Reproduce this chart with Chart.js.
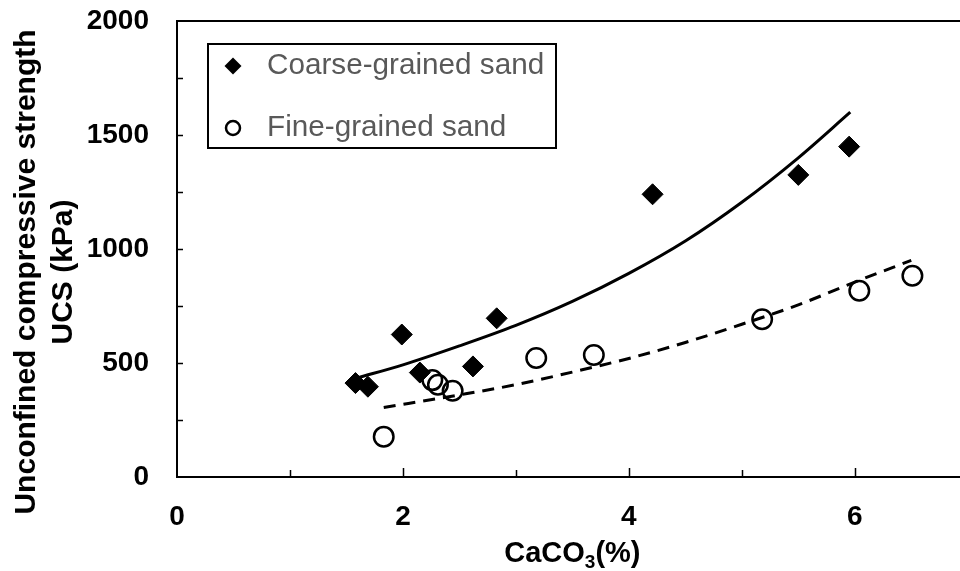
<!DOCTYPE html>
<html>
<head>
<meta charset="utf-8">
<script src="https://cdn.jsdelivr.net/npm/chart.js@4.4.1/dist/chart.umd.min.js"></script>
<style>
  html, body { margin: 0; padding: 0; background: #fff; overflow: hidden; }
  #wrap { width: 960px; height: 571px; overflow: hidden; }
  #grafico { display: block; }
</style>
</head>
<body>
<div id="wrap"><canvas id="grafico" width="980" height="571"></canvas></div>
<script>
const serieNomes = ['Coarse-grained sand', 'Fine-grained sand'];

// measured points
const coarseX = [1.58, 1.69, 1.99, 2.15, 2.62, 2.83, 4.21, 5.50, 5.95];
const coarseY = [412, 396, 625, 458, 485, 696, 1240, 1325, 1449];
const fineX = [1.83, 2.26, 2.31, 2.44, 3.18, 3.69, 5.18, 6.04, 6.51];
const fineY = [177, 425, 405, 378, 522, 535, 692, 817, 883];

// fitted trend curves
const coarseFitX = [1.60, 2.0, 2.5, 3.0, 3.5, 4.0, 4.5, 5.0, 5.5, 5.96];
const coarseFitY = [435, 492, 575, 665, 770, 893, 1035, 1205, 1400, 1600];
const fineFitX = [1.83, 2.5, 3.0, 3.5, 4.0, 4.5, 5.0, 5.5, 6.0, 6.5];
const fineFitY = [305, 360, 405, 460, 520, 590, 670, 755, 855, 950];

// axes
const xTickLabels = [0, 2, 4, 6];
const xTickMarks = [1, 2, 3, 4, 5, 6, 7];
const yTickLabels = [0, 500, 1000, 1500, 2000];
const yTickMarks = [250, 500, 750, 1000, 1250, 1500, 1750];

const fonte = "'Liberation Sans', Arial, Helvetica, sans-serif";

function pares(xs, ys) {
    let lista = [];
    for (let i = 0; i < xs.length; i++) {
        lista.push({ x: xs[i], y: ys[i] });
    }
    return lista;
}

function losango(ctx, cx, cy, r) {
    ctx.beginPath();
    ctx.moveTo(cx - r, cy);
    ctx.lineTo(cx, cy - r);
    ctx.lineTo(cx + r, cy);
    ctx.lineTo(cx, cy + r);
    ctx.closePath();
    ctx.fill();
}

// frame, inward tick marks, legend box and axis titles
const molduraPlugin = {
    id: 'moldura',
    afterDraw(chart) {
        const ctx = chart.ctx;
        const area = chart.chartArea;
        const sx = chart.scales.x;
        const sy = chart.scales.y;

        ctx.save();
        ctx.strokeStyle = '#000';
        ctx.lineWidth = 2;
        ctx.strokeRect(area.left, area.top, area.right - area.left, area.bottom - area.top);

        ctx.lineWidth = 1.5;
        ctx.beginPath();
        yTickMarks.forEach(v => {
            const py = Math.round(sy.getPixelForValue(v)) + 0.5;
            ctx.moveTo(area.left, py);
            ctx.lineTo(area.left + 6, py);
        });
        xTickMarks.forEach(v => {
            const px = Math.round(sx.getPixelForValue(v)) + 0.5;
            const len = v % 2 === 0 ? 9 : 7;
            ctx.moveTo(px, area.bottom);
            ctx.lineTo(px, area.bottom - len);
        });
        ctx.stroke();

        // legend
        const lx = area.left + 31;
        const ly = area.top + 23;
        ctx.fillStyle = '#fff';
        ctx.fillRect(lx, ly, 348, 104);
        ctx.lineWidth = 2;
        ctx.strokeRect(lx, ly, 348, 104);

        ctx.fillStyle = '#000';
        losango(ctx, lx + 25, ly + 22, 8.5);
        ctx.lineWidth = 2.5;
        ctx.beginPath();
        ctx.arc(lx + 25, ly + 84, 7, 0, Math.PI * 2);
        ctx.stroke();

        ctx.font = '29.7px ' + fonte;
        ctx.fillStyle = '#595959';
        ctx.textAlign = 'left';
        ctx.textBaseline = 'alphabetic';
        ctx.fillText(serieNomes[0], lx + 59, ly + 30);
        ctx.fillText(serieNomes[1], lx + 59, ly + 92);

        // y title, two lines
        ctx.fillStyle = '#000';
        ctx.font = 'bold 30px ' + fonte;
        ctx.textAlign = 'center';
        ctx.save();
        ctx.translate(35, 272);
        ctx.rotate(-Math.PI / 2);
        ctx.fillText('Unconfined compressive strength', 0, 0);
        ctx.restore();
        ctx.save();
        ctx.translate(72, 272);
        ctx.rotate(-Math.PI / 2);
        ctx.fillText('UCS (kPa)', 0, 0);
        ctx.restore();

        // x title with subscript
        const grande = 'bold 29px ' + fonte;
        const pequeno = 'bold 19px ' + fonte;
        ctx.font = grande;
        const w1 = ctx.measureText('CaCO').width;
        const w3 = ctx.measureText('(%)').width;
        ctx.font = pequeno;
        const w2 = ctx.measureText('3').width;
        const centro = (area.left + area.right) / 2;
        let px = centro - (w1 + w2 + w3) / 2;
        const base = 562;
        ctx.textAlign = 'left';
        ctx.font = grande;
        ctx.fillText('CaCO', px, base);
        px += w1;
        ctx.font = pequeno;
        ctx.fillText('3', px, base + 6);
        px += w2;
        ctx.font = grande;
        ctx.fillText('(%)', px, base);
        ctx.restore();
    }
};

const config = {
    type: 'scatter',
    data: {
        datasets: [
            {
                label: serieNomes[0],
                data: pares(coarseX, coarseY),
                pointStyle: 'rectRot',
                pointRadius: 10.5,
                pointHoverRadius: 10.5,
                backgroundColor: '#000',
                borderColor: '#000',
                borderWidth: 1,
                order: 0
            },
            {
                label: serieNomes[1],
                data: pares(fineX, fineY),
                pointStyle: 'circle',
                pointRadius: 9.75,
                pointHoverRadius: 9.75,
                backgroundColor: 'rgba(0,0,0,0)',
                borderColor: '#000',
                borderWidth: 2.5,
                order: 0
            },
            {
                type: 'line',
                label: 'coarse fit',
                data: pares(coarseFitX, coarseFitY),
                borderColor: '#000',
                borderWidth: 3,
                pointRadius: 0,
                cubicInterpolationMode: 'monotone',
                fill: false,
                order: 1
            },
            {
                type: 'line',
                label: 'fine fit',
                data: pares(fineFitX, fineFitY),
                borderColor: '#000',
                borderWidth: 3,
                borderDash: [12, 8],
                pointRadius: 0,
                cubicInterpolationMode: 'monotone',
                fill: false,
                order: 1
            }
        ]
    },
    options: {
        responsive: false,
        animation: false,
        devicePixelRatio: 1,
        layout: { padding: { top: 21, right: 11, left: 0, bottom: 0 } },
        plugins: {
            legend: { display: false },
            tooltip: { enabled: false }
        },
        scales: {
            x: {
                type: 'linear',
                min: 0,
                max: 7,
                grid: { display: false, drawTicks: false },
                border: { display: false },
                afterBuildTicks: s => { s.ticks = xTickLabels.map(v => ({ value: v })); },
                afterFit: s => {
                    s.height = 94;
                    s.paddingLeft = 0;
                    s.paddingRight = 0;
                },
                ticks: {
                    color: '#000',
                    padding: 23,
                    maxRotation: 0,
                    callback: v => String(v),
                    font: { family: fonte, size: 28, weight: 'bold' }
                }
            },
            y: {
                type: 'linear',
                min: 0,
                max: 2000,
                grid: { display: false, drawTicks: false },
                border: { display: false },
                afterBuildTicks: s => { s.ticks = yTickLabels.map(v => ({ value: v })); },
                afterFit: s => {
                    s.width = 177;
                    s.paddingTop = 0;
                    s.paddingBottom = 0;
                },
                ticks: {
                    color: '#000',
                    padding: 28,
                    callback: v => String(v),
                    font: { family: fonte, size: 28, weight: 'bold' }
                }
            }
        }
    },
    plugins: [molduraPlugin]
};

let myChart = new Chart(document.getElementById('grafico'), config);
</script>
</body>
</html>
